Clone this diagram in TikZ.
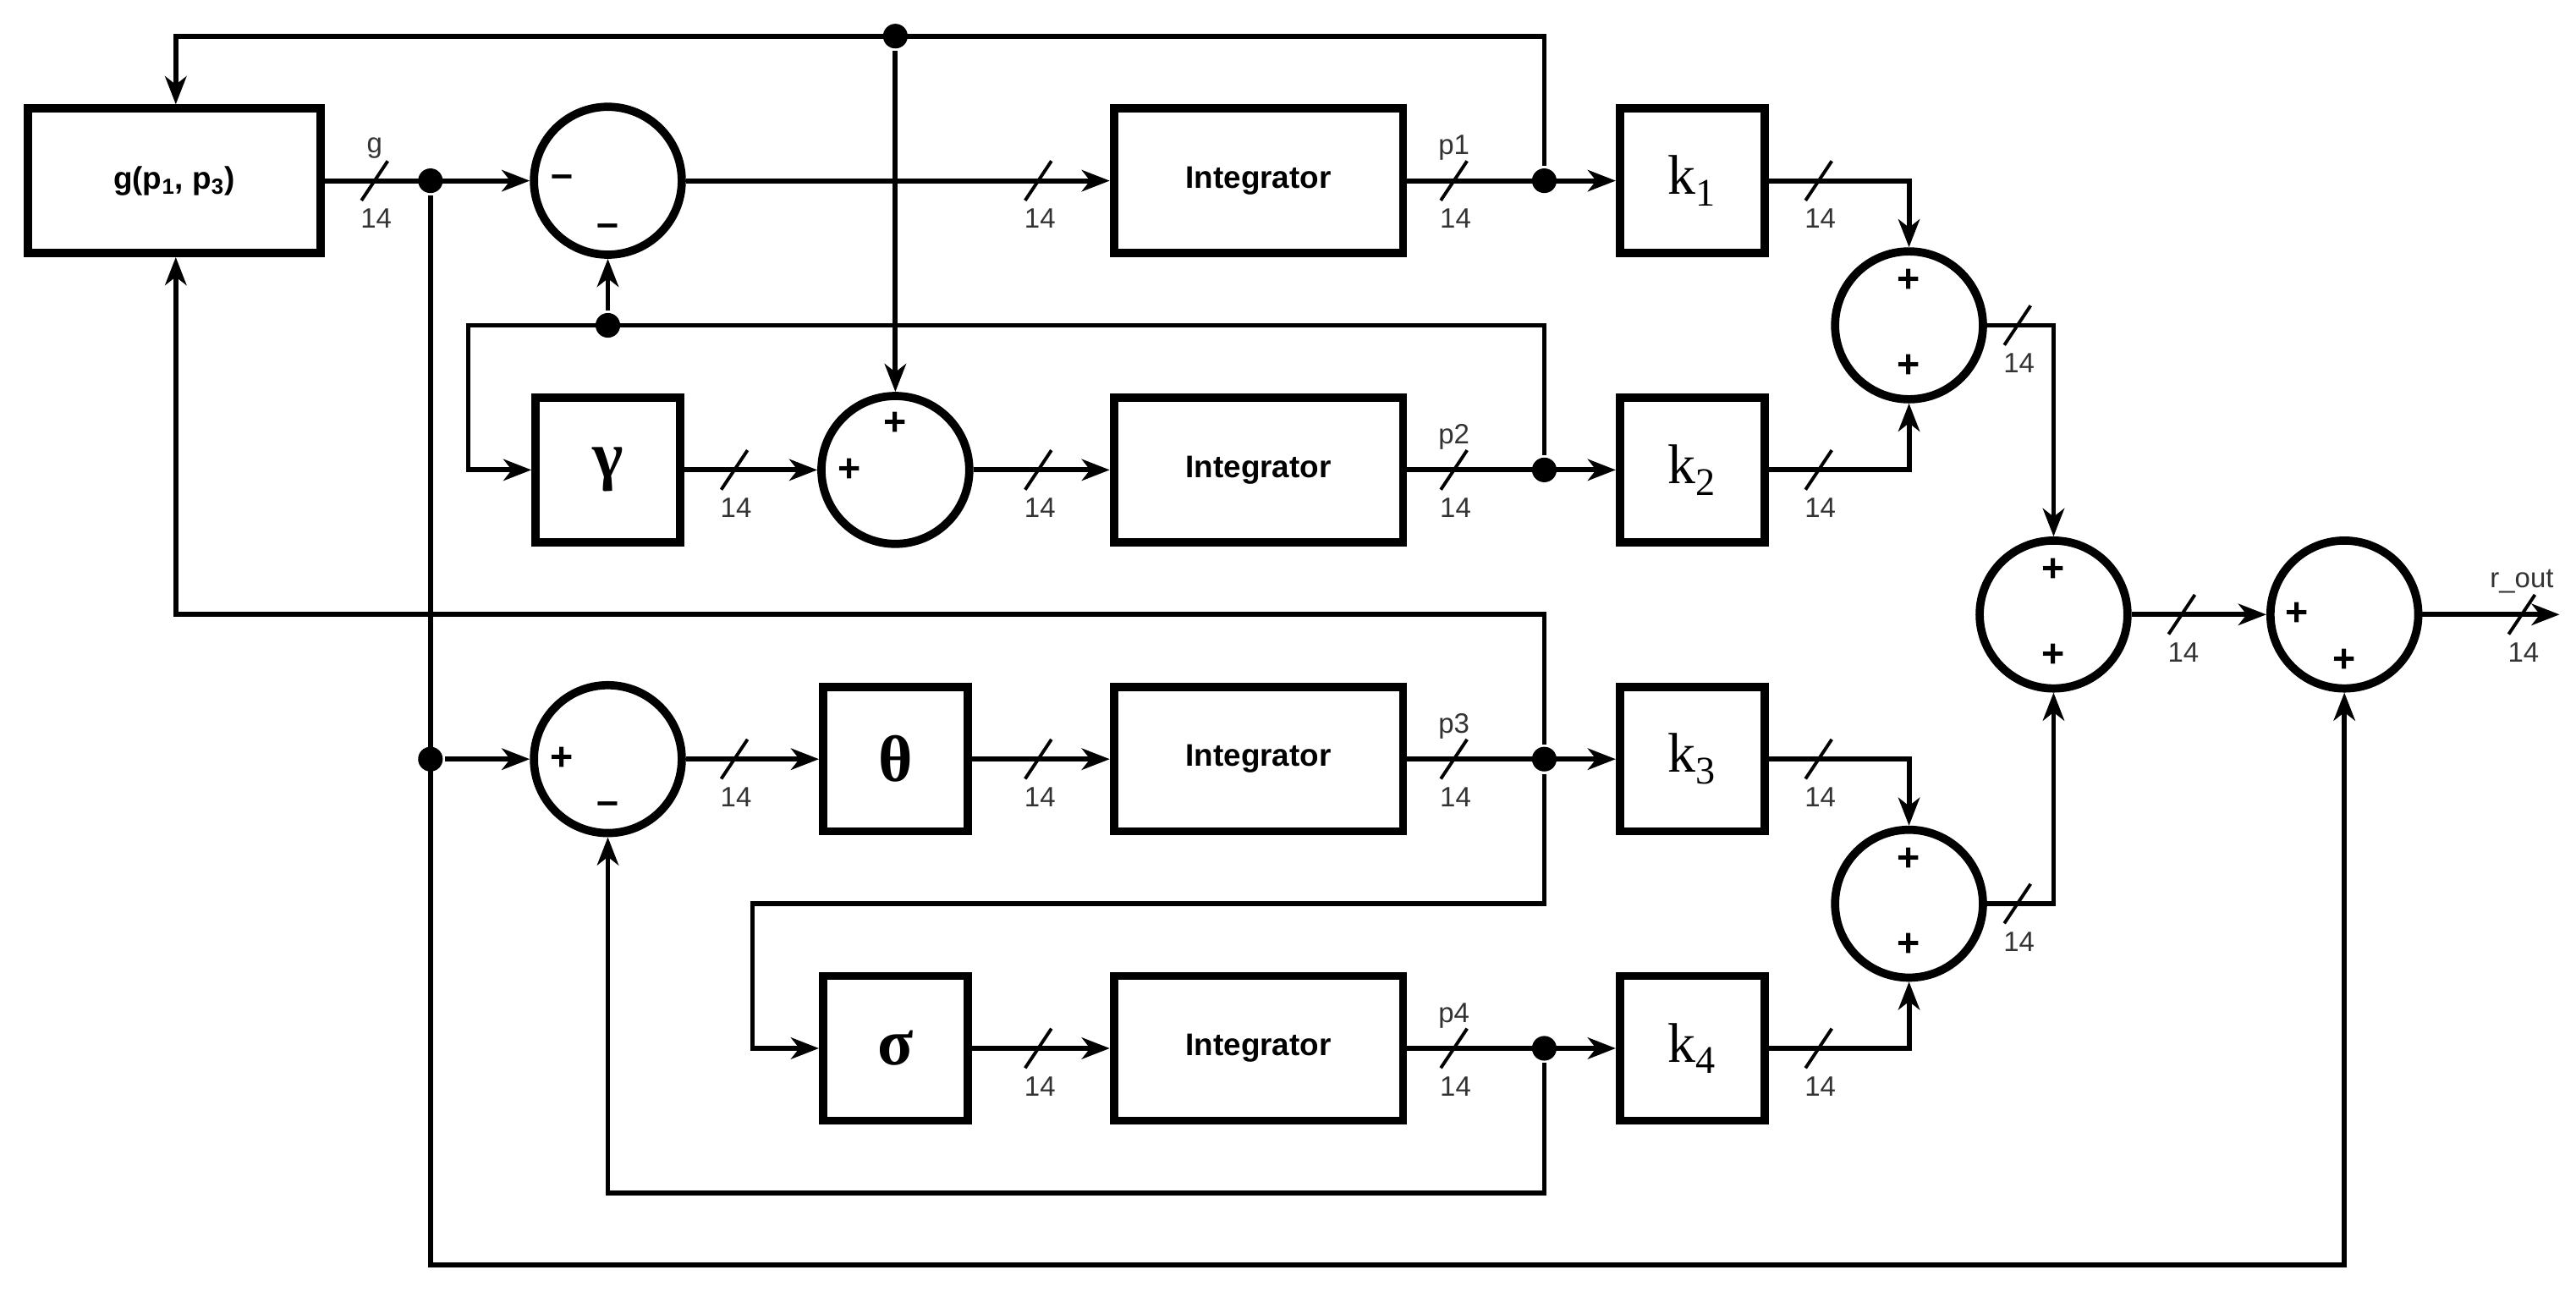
\documentclass[tikz,border=0pt]{standalone}
\usepackage{fontspec}
\setmainfont{Liberation Sans}
\newfontfamily\serif{Liberation Serif}
\usetikzlibrary{arrows.meta}
\begin{document}
\begin{tikzpicture}[x=1pt,y=-1pt,
 line width=3pt,
 >={Stealth[length=17pt,width=13pt,inset=5pt]},
 blk/.style={draw,line width=5pt,minimum width=88pt,minimum height=88pt,inner sep=0pt},
 integ/.style={draw,line width=5pt,minimum width=176pt,minimum height=88pt,font=\fontsize{19}{19}\selectfont\bfseries},
 sum/.style={draw,circle,line width=5pt,minimum size=90pt,inner sep=0pt},
 kl/.style={font=\serif\fontsize{34}{34}\selectfont},
 gr/.style={font=\serif\fontsize{40}{40}\selectfont\bfseries},
 sg/.style={font=\fontsize{24}{24}\selectfont\bfseries,inner sep=0pt},
 lb/.style={font=\fontsize{17}{17}\selectfont,text=black!80,inner sep=0pt},
 dot/.style={circle,fill,inner sep=0pt,minimum size=15pt}]
\useasboundingbox (0,0) rectangle (1568,786);
% blocks
\node[integ,minimum width=178pt] (G) at (106,110) {g(p\textsubscript{1}, p\textsubscript{3})};
\node[sum] (S1) at (370,110) {};
\node[sum] (S2) at (545,286) {};
\node[sum] (S3) at (370,462) {};
\node[blk,gr] (GA) at (370,286) {γ};
\node[blk,gr] (TH) at (545,462) {θ};
\node[blk,gr] (SI) at (545,638) {σ};
\node[integ] (I1) at (766,110) {Integrator};
\node[integ] (I2) at (766,286) {Integrator};
\node[integ] (I3) at (766,462) {Integrator};
\node[integ] (I4) at (766,638) {Integrator};
\node[blk,kl] (K1) at (1030,110) {k\textsubscript{1}};
\node[blk,kl] (K2) at (1030,286) {k\textsubscript{2}};
\node[blk,kl] (K3) at (1030,462) {k\textsubscript{3}};
\node[blk,kl] (K4) at (1030,638) {k\textsubscript{4}};
\node[sum] (SA) at (1162,198) {};
\node[sum] (SB) at (1162,550) {};
\node[sum] (SM) at (1250,374) {};
\node[sum] (SF) at (1427,374) {};
% signs
\node[sg] at (342,110) {–}; \node[sg] at (370,140) {–};
\node[sg] at (545,258) {+}; \node[sg] at (517,286) {+};
\node[sg] at (342,462) {+}; \node[sg] at (370,492) {–};
\foreach \s in {SA,SB,SM}{\node[sg] at ([yshift=-25pt]\s.center) {+}; \node[sg] at ([yshift=27pt]\s.center) {+};}
\node[sg] at (1398,374) {+}; \node[sg] at (1427,402) {+};
% junctions
\node[dot] (J0) at (262,110) {};
\node[dot] (J0b) at (262,462) {};
\node[dot] (JT) at (545,22) {};
\node[dot] (JM) at (370,198) {};
\node[dot] (P1) at (940,110) {};
\node[dot] (P2) at (940,286) {};
\node[dot] (P3) at (940,462) {};
\node[dot] (P4) at (940,638) {};
% main paths
\draw[->] (G) -- (S1);
\draw[->] (S1) -- (I1);
\draw[->] (I1) -- (K1);
\draw[->] (GA) -- (S2);
\draw[->] (S2) -- (I2);
\draw[->] (I2) -- (K2);
\draw[->] (J0b) -- (S3);
\draw[->] (S3) -- (TH);
\draw[->] (TH) -- (I3);
\draw[->] (I3) -- (K3);
\draw[->] (SI) -- (I4);
\draw[->] (I4) -- (K4);
\draw[->] (K1) -| (SA);
\draw[->] (K2) -| (SA);
\draw[->] (K3) -| (SB);
\draw[->] (K4) -| (SB);
\draw[->] (SA) -| (SM);
\draw[->] (SB) -| (SM);
\draw[->] (SM) -- (SF);
\coordinate (OUT) at (1558,374);
\draw[->] (SF) -- (OUT);
% feedback
\coordinate (a1) at (940,22); \coordinate (a2) at (107,22);
\draw[->] (P1) -- (a1) -- (a2) -- (G.north -| a2);
\draw[->] (JT) -- (S2);
\coordinate (b1) at (940,198); \coordinate (b2) at (285,198); \coordinate (b3) at (285,286);
\draw[->] (P2) -- (b1) -- (b2) -- (b3) -- (GA);
\draw[->] (JM) -- (S1);
\coordinate (c1) at (940,374); \coordinate (c2) at (107,374);
\draw[->] (P3) -- (c1) -- (c2) -- (G.south -| c2);
\coordinate (d1) at (940,550); \coordinate (d2) at (458,550); \coordinate (d3) at (458,638);
\draw[->] (P3) -- (d1) -- (d2) -- (d3) -- (SI);
\coordinate (e1) at (940,726); \coordinate (e2) at (370,726);
\draw[->] (P4) -- (e1) -- (e2) -- (S3);
\coordinate (f1) at (262,770); \coordinate (f2) at (1427,770);
\draw[->] (J0) -- (f1) -- (f2) -- (SF);
% bus slashes
\foreach \x/\y/\t/\u in {228/110/g/14, 632/110//14, 885/110/p1/14, 1107/110//14,
 447/286//14, 632/286//14, 885/286/p2/14, 1107/286//14,
 447/462//14, 632/462//14, 885/462/p3/14, 1107/462//14,
 632/638//14, 885/638/p4/14, 1107/638//14,
 1228/198//14, 1228/550//14, 1328/374//14, 1535/374/r\_out/14}{
 \draw[line width=2pt] (\x-8,\y+12) -- (\x+8,\y-12);
 \node[lb] at (\x+1,\y+23) {\u};
 \node[lb] at (\x,\y-20) {\t};
}
\end{tikzpicture}
\end{document}
